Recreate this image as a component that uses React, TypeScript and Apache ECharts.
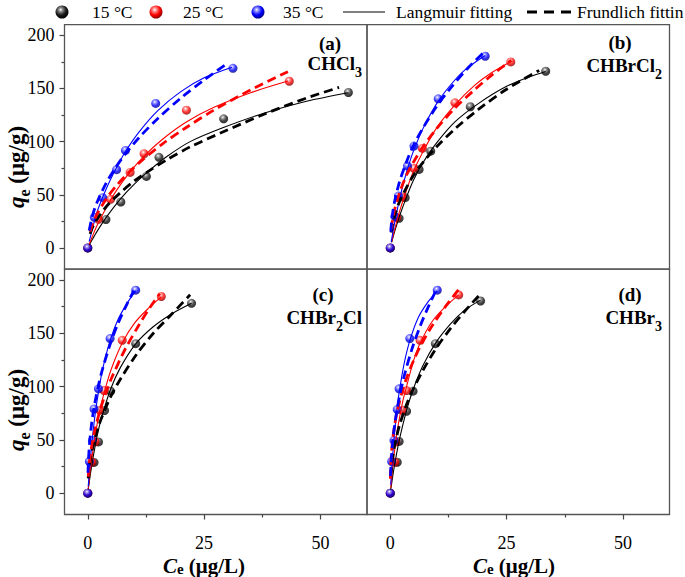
import React, { useEffect, useRef } from 'react';
import * as echarts from 'echarts';

const temps = ['15 °C', '25 °C', '35 °C'];
const xTicks = [0, 25, 50];
const xMinor = [12.5, 37.5];
const yTicks = [0, 50, 100, 150, 200];
const yMinor = [25, 75, 125, 175];
const panelTags = ['(a)', '(b)', '(c)', '(d)'];
const compounds = ['{m|CHCl}{s|3}', '{m|CHBrCl}{s|2}', '{m|CHBr}{s|2}{m|Cl}', '{m|CHBr}{s|3}'];

// ---- (a) CHCl3 ----
const a15 = [[0, 0], [3.9, 26.7], [7.1, 43.2], [12.6, 67.3], [15.3, 85.2], [29.2, 121.5], [56, 146.2]];
const a25 = [[0, 0], [2.3, 27], [4.9, 45.7], [9.1, 71], [12.1, 88.6], [21.2, 129.6], [43.3, 156.8]];
const a35 = [[0, 0], [1.4, 28.8], [3.2, 47.3], [6.2, 73.6], [8.1, 91.7], [14.6, 135.9], [31.2, 169]];
const a15L = [[0.3, 2.5], [1, 8.1], [2, 15.6], [4, 29], [7, 46], [10, 60], [13, 72], [17, 86], [22, 100], [29, 113], [38, 127], [47, 138], [56, 146]];
const a25L = [[0.3, 3.4], [1, 11], [2, 21], [4, 38], [6, 53], [9, 71], [12, 86], [16, 102], [21, 118], [27, 132], [35, 146], [43, 157]];
const a35L = [[0.3, 6], [1, 18], [2, 34], [4, 56], [6, 74], [8, 90], [11, 109], [15, 129], [20, 147], [25, 160], [31, 170]];
const a15F = [[0.5, 13.2], [1, 19], [2, 27], [4, 39], [7, 52], [10, 63], [13, 72], [17, 83], [22, 95], [29, 109], [38, 126], [47, 141], [54, 151]];
const a25F = [[0.5, 15.3], [1, 22], [2, 31.9], [4, 46.3], [6, 57.8], [9, 71.8], [12, 83.7], [16, 97.7], [21, 112.8], [27, 129.4], [35, 148.7], [43, 165.8]];
const a35F = [[0.3, 16.3], [1, 30.2], [2, 43], [4, 61.5], [6, 75.7], [8, 88], [11, 103.7], [15, 121.6], [20, 141], [25, 158], [29.8, 173]];

// ---- (b) CHBrCl2 ----
const b15 = [[0, 0], [1.9, 27.9], [3.2, 47.3], [6.2, 73.9], [8.7, 91], [17.2, 132.8], [33.4, 166.2]];
const b25 = [[0, 0], [1.4, 28.5], [2.6, 48], [5.1, 74.8], [6.9, 93.6], [13.9, 136.5], [25.9, 175]];
const b35 = [[0, 0], [1.0, 29.5], [1.75, 48.8], [3.7, 77], [5.1, 95.8], [10.3, 140.3], [20.4, 180.3]];
const b15L = [[0.3, 5.2], [1, 16.3], [2, 30], [3.5, 48], [5, 64], [7, 80], [10, 99], [14, 119], [19, 136], [25, 152], [30, 161], [33.4, 166]];
const b25L = [[0.3, 5.8], [1, 18.3], [2, 34.4], [3.5, 54.5], [5, 72.3], [7, 90.3], [10, 113.2], [14, 135], [18, 152.5], [22, 165.5], [26, 175.5]];
const b35L = [[0.2, 5.5], [0.5, 13.2], [1, 25.2], [2, 46], [3, 63.5], [4, 78.5], [5, 91.3], [7, 112], [10, 136], [13, 153.5], [16, 167.3], [20.4, 181]];
const b15F = [[0.2, 14.5], [0.5, 22.3], [1, 31.2], [2, 43.7], [3.5, 57], [5, 68.3], [7, 80.3], [10, 95.4], [14, 112.4], [19, 130.5], [25, 149.3], [32, 167]];
const b25F = [[0.2, 17.6], [0.5, 26.8], [1, 37.3], [2, 52], [3.5, 68.6], [5, 80.9], [7, 95], [10, 112.5], [14, 132], [18, 148.4], [22, 163.2], [26, 176.5]];
const b35F = [[0.1, 15.3], [0.3, 25.6], [0.6, 35.4], [1, 45.1], [2, 62.5], [3.5, 81.1], [5, 96.5], [7, 112.6], [10, 133.4], [13, 150.6], [16.5, 168.4], [20.6, 186]];

// ---- (c) CHBr2Cl ----
const c15 = [[0, 0], [1.35, 28.8], [2.3, 48], [3.6, 77.4], [4.9, 95.6], [10.3, 140.2], [22.3, 178]];
const c25 = [[0, 0], [0.9, 29], [1.6, 48], [2.6, 77.7], [3.5, 96.2], [7.4, 143.3], [15.8, 184.4]];
const c35 = [[0, 0], [0.35, 29.7], [1.0, 49.5], [1.35, 79], [2.3, 97.8], [4.8, 145], [10.3, 190.3]];
const c15L = [[0.1, 3.4], [0.5, 16], [1, 29.9], [2, 53.4], [3, 71.3], [4.9, 97.4], [7, 117.7], [10.3, 140], [14, 155.8], [18, 168], [22.3, 178]];
const c25L = [[0.1, 4.2], [0.5, 19.6], [1, 36.4], [1.5, 51.4], [2.5, 75.9], [3.5, 93.8], [5, 115.7], [7.4, 140.7], [10, 159.2], [13, 173.2], [15.8, 184]];
const c35L = [[0.1, 6.3], [0.35, 20.7], [0.7, 38], [1, 51.8], [1.5, 71], [2.3, 95], [3.2, 116.4], [4.8, 143], [6.5, 162.8], [8.5, 178.4], [10.3, 189.7]];
const c15F = [[0.1, 13.9], [0.3, 23.3], [0.6, 32.9], [1, 42], [2, 58.5], [3, 71], [4.9, 90.2], [7, 106.9], [10.5, 130.2], [14, 149.5], [18, 167.7], [22, 186]];
const c25F = [[0.1, 15.4], [0.3, 26.5], [0.6, 37.4], [1, 48.1], [1.5, 58.8], [2.5, 75.6], [3.5, 89.4], [5, 106.8], [8, 134.7], [11, 157.7], [13.5, 175], [15.5, 187]];
const c35F = [[0.05, 19.2], [0.15, 30.8], [0.35, 44.8], [0.7, 60.4], [1, 70.6], [1.5, 84.1], [2.3, 101.3], [3.2, 116.8], [4.8, 139.5], [6.5, 159.1], [8.5, 178], [9.9, 190]];

// ---- (d) CHBr3 ----
const d15 = [[0, 0], [1.5, 29], [1.9, 48.5], [3.5, 76.8], [4.9, 95.6], [9.7, 140.2], [19.4, 180.2]];
const d25 = [[0, 0], [1.0, 29], [1.2, 48], [2.6, 77.7], [3.5, 96.2], [6.4, 143.3], [14.7, 185.9]];
const d35 = [[0, 0], [0.3, 29.7], [0.8, 49.5], [1.5, 78.4], [1.9, 97.8], [4.2, 145], [10.1, 190.3]];
const d15L = [[0.1, 3.2], [0.5, 15], [1, 28.3], [1.9, 49], [3.5, 77.7], [4.9, 97], [7, 119.4], [9.7, 140.5], [13, 158.9], [16, 171.6], [19.4, 181]];
const d25L = [[0.1, 5], [0.5, 23.4], [1, 42.6], [1.5, 58.9], [2.6, 84.5], [3.5, 100], [5, 124], [6.4, 140.5], [9, 161], [12, 175.5], [14.7, 186]];
const d35L = [[0.1, 7.8], [0.3, 22.2], [0.6, 40], [1, 60.7], [1.5, 81.2], [2, 97.1], [3, 122], [4.2, 143.1], [6, 164.5], [8, 178.6], [10.1, 189.6]];
const d15F = [[0.1, 15.6], [0.3, 26.1], [0.6, 36.3], [1, 46.1], [2, 63.9], [3.5, 83.1], [4.9, 97.4], [7, 115], [9.7, 134.8], [13, 154.8], [16, 170.6], [19.4, 186.9]];
const d25F = [[0.02, 13.6], [0.1, 26], [0.3, 40.1], [0.6, 53.4], [1, 65.3], [1.5, 76.8], [2.5, 94.1], [3.5, 107.8], [5, 124.3], [6.5, 138.1], [9, 157], [12, 175.8], [14.9, 192]];
const d35F = [[0.05, 16.1], [0.15, 26.9], [0.3, 37.3], [0.6, 51.6], [1, 65.6], [1.5, 79.6], [2, 90.9], [3, 110.1], [4.75, 136.4], [6.5, 157.5], [8, 173], [9.7, 189]];

const panelPoints = [[a15, a25, a35], [b15, b25, b35], [c15, c25, c35], [d15, d25, d35]];
const panelLang = [[a15L, a25L, a35L], [b15L, b25L, b35L], [c15L, c25L, c35L], [d15L, d25L, d35L]];
const panelFrund = [[a15F, a25F, a35F], [b15F, b25F, b35F], [c15F, c25F, c35F], [d15F, d25F, d35F]];

const SERIF = "'Liberation Serif', 'Times New Roman', Times, serif";
const lineColors = ['#000000', '#ff0000', '#0000ff'];
const sphereStops = [
  ['#ffffff', '#8a8a8a', '#1a1a1a', '#000000'],
  ['#ffffff', '#ff8a8a', '#ff0000', '#8a0000'],
  ['#ffffff', '#8a8aff', '#0000ff', '#00008a'],
];
function sphere(t: number) {
  const s = sphereStops[t];
  return new echarts.graphic.RadialGradient(0.4, 0.33, 0.68, [
    { offset: 0, color: s[0] },
    { offset: 0.22, color: s[1] },
    { offset: 0.6, color: s[2] },
    { offset: 1, color: s[3] },
  ]);
}

function buildOption() {
  const grids = [
    { left: 64.5, top: 24.7, width: 302.5, height: 244.5 },
    { left: 367, top: 24.7, width: 302.5, height: 244.5 },
    { left: 64.5, top: 269.2, width: 302.5, height: 245.3 },
    { left: 367, top: 269.2, width: 302.5, height: 245.3 },
  ].map((g) => ({ ...g, show: true, borderColor: '#555', borderWidth: 1.3, backgroundColor: 'transparent', containLabel: false }));

  const tickStyle = { color: '#444', width: 1.2 };
  const labelStyle = { fontSize: 18, fontFamily: SERIF, color: '#000' };
  const xAxis: any[] = [];
  const yAxis: any[] = [];
  for (let p = 0; p < 4; p++) {
    const bottom = p >= 2;
    const left = p % 2 === 0;
    xAxis.push({
      gridIndex: p, type: 'value', min: -5, max: 60, position: 'bottom',
      axisLine: { show: false, onZero: false }, splitLine: { show: false },
      axisTick: { show: bottom, customValues: xTicks, length: 5, lineStyle: tickStyle },
      axisLabel: { show: bottom, customValues: xTicks, margin: 19, lineHeight: 18, ...labelStyle },
    });
    xAxis.push({
      gridIndex: p, type: 'value', min: -5, max: 60, position: 'bottom',
      axisLine: { show: false, onZero: false }, splitLine: { show: false },
      axisTick: { show: bottom, customValues: xMinor, length: 3, lineStyle: tickStyle },
      axisLabel: { show: false },
    });
    yAxis.push({
      gridIndex: p, type: 'value', min: -20, max: 210, position: 'left',
      axisLine: { show: false, onZero: false }, splitLine: { show: false },
      axisTick: { show: left, customValues: yTicks, length: 5, lineStyle: tickStyle },
      axisLabel: { show: left, customValues: yTicks, margin: 10, ...labelStyle },
    });
    yAxis.push({
      gridIndex: p, type: 'value', min: -20, max: 210, position: 'left',
      axisLine: { show: false, onZero: false }, splitLine: { show: false },
      axisTick: { show: left, customValues: yMinor, length: 3, lineStyle: tickStyle },
      axisLabel: { show: false },
    });
  }

  const series: any[] = [];
  for (let p = 0; p < 4; p++) {
    for (let t = 0; t < 3; t++) {
      series.push({
        type: 'scatter', name: temps[t], xAxisIndex: p * 2, yAxisIndex: p * 2,
        data: panelPoints[p][t], symbolSize: 9, z: 3,
        itemStyle: { color: sphere(t) },
      });
    }
    for (let t = 0; t < 3; t++) {
      series.push({
        type: 'line', name: 'Langmuir fitting', xAxisIndex: p * 2, yAxisIndex: p * 2,
        data: panelLang[p][t], symbol: 'none', smooth: 0.3, z: 4,
        lineStyle: { color: lineColors[t], width: 1.1 },
      });
    }
    for (let t = 0; t < 3; t++) {
      series.push({
        type: 'line', name: 'Frundlich fitting', xAxisIndex: p * 2, yAxisIndex: p * 2,
        data: panelFrund[p][t], symbol: 'none', smooth: 0.3, z: 5,
        lineStyle: { color: lineColors[t], width: 2.8, type: [9, 5] },
      });
    }
  }

  const legendText = (x: number, text: string) => ({
    type: 'text', x, y: 12,
    style: { text, fontSize: 17.5, fontFamily: SERIF, fill: '#000', align: 'left', verticalAlign: 'middle' },
  });
  const ballXs = [62, 156, 258];
  const textXs = [92, 183, 283];
  const graphic: any[] = [];
  for (let t = 0; t < 3; t++) {
    graphic.push({ type: 'circle', shape: { cx: ballXs[t], cy: 12, r: 6.5 }, style: { fill: sphere(t) } });
    graphic.push(legendText(textXs[t], temps[t]));
  }
  graphic.push({ type: 'line', shape: { x1: 343, y1: 12, x2: 385, y2: 12 }, style: { stroke: '#000', lineWidth: 1 } });
  graphic.push(legendText(396, 'Langmuir fitting'));
  graphic.push({ type: 'line', shape: { x1: 527, y1: 12, x2: 573, y2: 12 }, style: { stroke: '#000', lineWidth: 3, lineDash: [10, 7] } });
  graphic.push(legendText(577, 'Frundlich fittin'));

  const tagPos = [[330, 43], [620, 42], [323, 294], [630, 294]];
  const formulaPos = [[362, 63], [662, 65], [362, 317], [662, 317]];
  const formulaRich = {
    m: { fontSize: 19, fontWeight: 'bold', fontFamily: SERIF, lineHeight: 32, fill: '#000' },
    s: { fontSize: 14, fontWeight: 'bold', fontFamily: SERIF, lineHeight: 14, verticalAlign: 'bottom', fill: '#000' },
  };
  for (let p = 0; p < 4; p++) {
    graphic.push({
      type: 'text', x: tagPos[p][0], y: tagPos[p][1],
      style: { text: panelTags[p], fontSize: 19, fontWeight: 'bold', fontFamily: SERIF, fill: '#000', align: 'center', verticalAlign: 'middle' },
    });
    graphic.push({
      type: 'text', x: formulaPos[p][0], y: formulaPos[p][1],
      style: { text: compounds[p], rich: formulaRich, align: 'right', verticalAlign: 'middle' },
    });
  }

  const yTitleRich = {
    i: { fontSize: 23, fontStyle: 'italic', fontWeight: 'bold', fontFamily: SERIF, lineHeight: 32, fill: '#000' },
    s: { fontSize: 16, fontWeight: 'bold', fontFamily: SERIF, lineHeight: 16, verticalAlign: 'bottom', fill: '#000' },
    n: { fontSize: 23, fontWeight: 'bold', fontFamily: SERIF, lineHeight: 32, fill: '#000' },
  };
  const xTitleRich = {
    i: { fontSize: 21, fontStyle: 'italic', fontWeight: 'bold', fontFamily: SERIF, lineHeight: 21, fill: '#000' },
    s: { fontSize: 15, fontWeight: 'bold', fontFamily: SERIF, lineHeight: 15, verticalAlign: 'bottom', fill: '#000' },
    n: { fontSize: 21, fontWeight: 'bold', fontFamily: SERIF, lineHeight: 21, fill: '#000' },
  };
  for (const yc of [167, 410]) {
    graphic.push({
      type: 'text', x: 16, y: yc, rotation: Math.PI / 2,
      style: { text: '{i|q}{s|e}{n| (μg/g)}', rich: yTitleRich, align: 'center', verticalAlign: 'middle' },
    });
  }
  for (const xc of [204, 514]) {
    graphic.push({
      type: 'text', x: xc, y: 565.5,
      style: { text: '{i|C}{s|e}{n| (μg/L)}', rich: xTitleRich, align: 'center', verticalAlign: 'middle' },
    });
  }

  return {
    animation: false,
    backgroundColor: '#ffffff',
    grid: grids,
    xAxis,
    yAxis,
    series,
    graphic,
  };
}

export default function App() {
  const ref = useRef<HTMLDivElement>(null);
  useEffect(() => {
    const chart = echarts.init(ref.current!, undefined, { renderer: 'svg' });
    chart.setOption(buildOption() as any);
    return () => chart.dispose();
  }, []);
  return (
    <div
      ref={ref}
      style={{ position: 'absolute', left: 0, top: 0, width: 685, height: 577, background: '#fff' }}
    />
  );
}
